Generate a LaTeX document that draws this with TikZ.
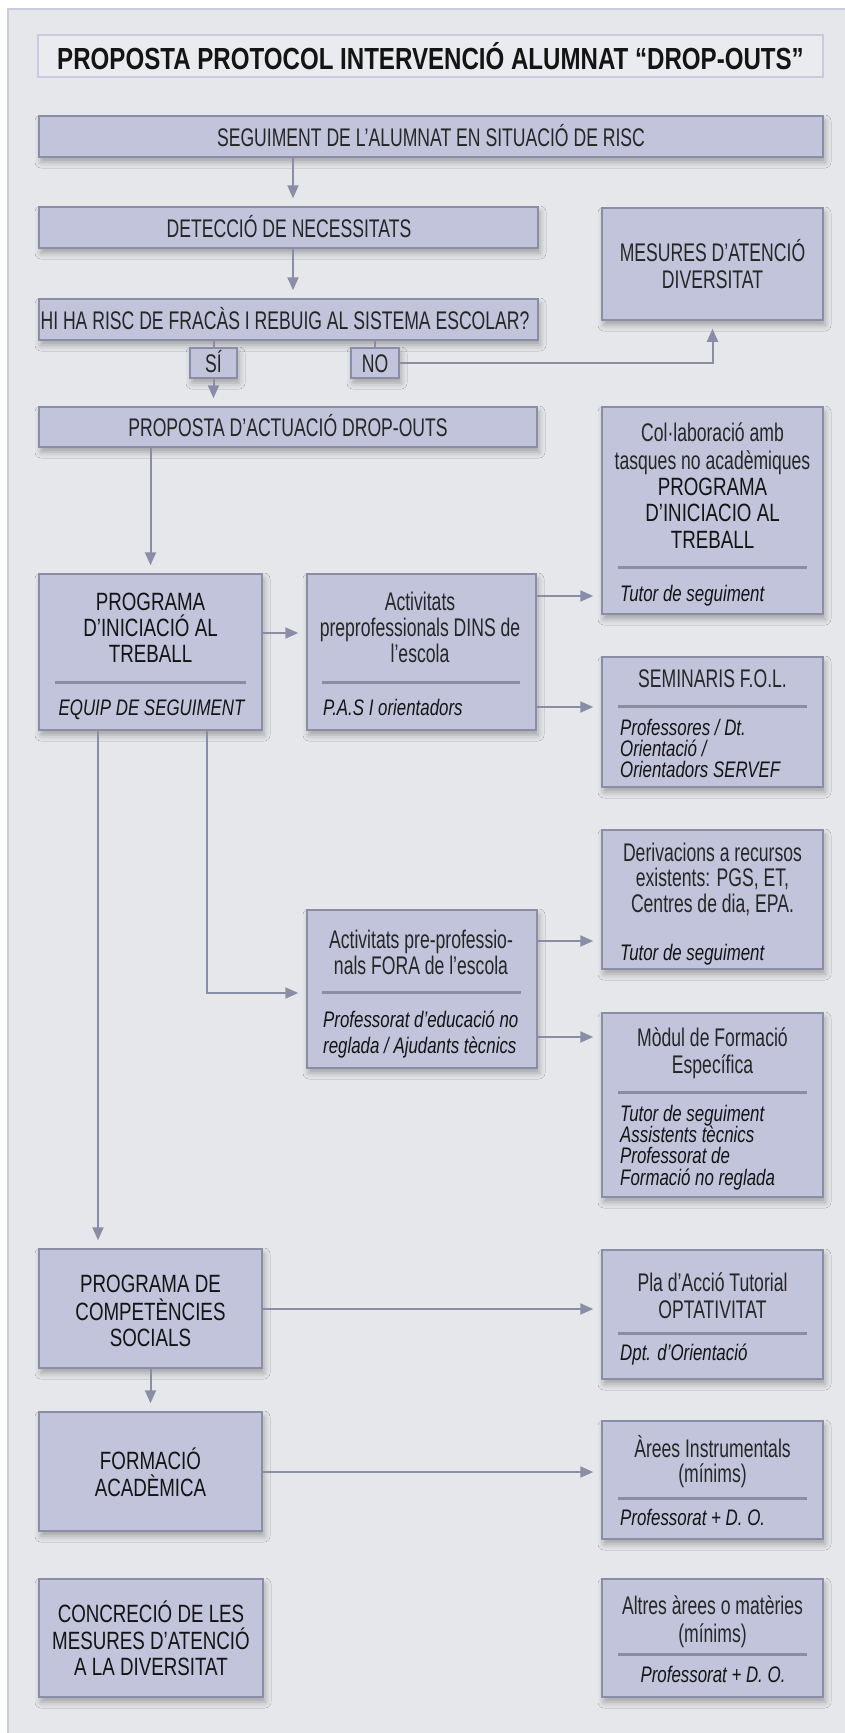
\documentclass[tikz,border=0pt]{standalone}
\usepackage{fontspec}
\setmainfont{Liberation Sans}[FakeStretch=0.69]
\newfontfamily\dkfont{Liberation Sans}[FakeStretch=0.75]
\newfontfamily\itfont{Liberation Sans}[FakeStretch=0.75]
\newfontfamily\titlefont{Liberation Sans}[FakeStretch=0.79]
\usetikzlibrary{arrows.meta,shadows.blur}
\definecolor{bgc}{HTML}{E6E7EA}
\definecolor{framec}{HTML}{C8CBE1}
\definecolor{titlefill}{HTML}{EAEBEE}
\definecolor{boxfill}{HTML}{C1C4DB}
\definecolor{boxline}{HTML}{8A8DA6}
\definecolor{linec}{HTML}{8A8DA6}
\definecolor{txtdark}{HTML}{141414}
\definecolor{txtlight}{HTML}{262626}
\tikzset{
 box/.style={draw=boxline, fill=boxfill, line width=1.5pt, inner sep=0pt, rectangle,
   blur shadow={shadow xshift=2pt, shadow yshift=-5pt, shadow blur radius=6pt, shadow opacity=30}},
 lt/.style={font=\fontsize{25.5}{27}\selectfont, text=txtlight, inner sep=0pt, text height=18.3pt, text depth=0pt},
 dk/.style={font=\dkfont\fontsize{25}{27}\selectfont, text=txtdark, inner sep=0pt, text height=18pt, text depth=0pt},
 it/.style={font=\itfont\itshape\fontsize{22.5}{21}\selectfont, text=txtdark, inner sep=0pt, text height=16pt, text depth=0pt},
 itw/.style={it, anchor=west},
 sepline/.style={draw=boxline, line width=3pt},
 conn/.style={draw=linec, line width=2pt},
 arr/.style={conn, -{Triangle[length=13pt,width=11pt]}, shorten >=8pt},
}
\begin{document}
\begin{tikzpicture}[x=1pt,y=-1pt]
\useasboundingbox (0,0) rectangle (845,1733);
\clip (0,0) rectangle (845,1733);
\fill[white] (0,0) rectangle (845,1733);
\draw[framec, fill=bgc, line width=2pt] (8,9) rectangle (880,1780);

% title
\node[draw=framec, line width=2.5pt, fill=titlefill, minimum width=785pt, minimum height=42pt, inner sep=0pt] (title) at (430.5,56) {};
\node[font=\titlefont\bfseries\fontsize{30.5}{31}\selectfont, text=txtdark, inner sep=0pt, text height=22pt, text depth=0pt] (titletxt) at (430.5,58) {PROPOSTA PROTOCOL INTERVENCIÓ ALUMNAT “DROP-OUTS”};

% boxes
\node[box, minimum width=784pt, minimum height=41pt] (seg) at (431,136.5) {};
\node[box, minimum width=499pt, minimum height=41pt] (det) at (288.5,227.5) {};
\node[box, minimum width=499pt, minimum height=41pt] (hiha) at (288.5,319.5) {};
\node[box, minimum width=47pt, minimum height=30pt] (si) at (213.5,363) {};
\node[box, minimum width=48pt, minimum height=30pt] (no) at (375,363) {};
\node[box, minimum width=221pt, minimum height=112pt] (mes) at (712.5,264) {};
\node[box, minimum width=498pt, minimum height=40pt] (prop) at (288,427) {};
\node[box, minimum width=221pt, minimum height=207pt] (col) at (712.5,510.5) {};
\node[box, minimum width=223pt, minimum height=156pt] (prog) at (150.5,652) {};
\node[box, minimum width=229pt, minimum height=156pt] (dins) at (421.5,652) {};
\node[box, minimum width=221pt, minimum height=130pt] (sem) at (712.5,722) {};
\node[box, minimum width=221pt, minimum height=139pt] (der) at (712.5,899.5) {};
\node[box, minimum width=230pt, minimum height=158pt] (fora) at (422,989) {};
\node[box, minimum width=221pt, minimum height=184pt] (mod) at (712.5,1105) {};
\node[box, minimum width=223pt, minimum height=119pt] (comp) at (150.5,1308.5) {};
\node[box, minimum width=221pt, minimum height=129pt] (pla) at (712.5,1314.5) {};
\node[box, minimum width=223pt, minimum height=119pt] (form) at (150.5,1471.5) {};
\node[box, minimum width=221pt, minimum height=118pt] (arees) at (712.5,1480) {};
\node[box, minimum width=224pt, minimum height=118pt] (conc) at (151,1638) {};
\node[box, minimum width=221pt, minimum height=118pt] (altr) at (712.5,1638) {};

% texts
\node[lt] (segt) at (431,137) {SEGUIMENT DE L’ALUMNAT EN SITUACIÓ DE RISC};
\node[lt] (dett) at (289,228) {DETECCIÓ DE NECESSITATS};
\node[lt] (hihat) at (285,320) {HI HA RISC DE FRACÀS I REBUIG AL SISTEMA ESCOLAR?};
\node[lt] (sit) at (213.5,363) {SÍ};
\node[lt] (not) at (375,363) {NO};
\node[lt] (mest1) at (712.5,252) {MESURES D’ATENCIÓ};
\node[lt] (mest2) at (712.5,279.5) {DIVERSITAT};
\node[lt] (propt) at (288,427.5) {PROPOSTA D’ACTUACIÓ DROP-OUTS};

\node[lt] (colt1) at (712.5,432.5) {Col·laboració amb};
\node[lt] (colt2) at (712.5,460) {tasques no acadèmiques};
\node[dk] (colt3) at (712.5,486) {PROGRAMA};
\node[dk] (colt4) at (712.5,512) {D’INICIACIO AL};
\node[dk] (colt5) at (712.5,539) {TREBALL};
\draw[sepline] (618,567) -- (807,567);
\node[itw] (coli) at (620,593) {Tutor de seguiment};

\node[dk] (progt1) at (150.5,601) {PROGRAMA};
\node[dk] (progt2) at (150.5,627) {D’INICIACIÓ AL};
\node[dk] (progt3) at (150.5,653) {TREBALL};
\draw[sepline] (55,682) -- (246,682);
\node[it] (progi) at (151.5,707) {EQUIP DE SEGUIMENT};

\node[lt] (dinst1) at (420,601) {Activitats};
\node[lt] (dinst2) at (420,627) {preprofessionals DINS de};
\node[lt] (dinst3) at (420,653) {l’escola};
\draw[sepline] (322,682) -- (520,682);
\node[itw] (dinsi) at (323,707) {P.A.S I orientadors};

\node[lt] (semt) at (712.5,678) {SEMINARIS F.O.L.};
\draw[sepline] (618,706) -- (807,706);
\node[itw] (semi1) at (620,727) {Professores / Dt.};
\node[itw] (semi2) at (620,748) {Orientació /};
\node[itw] (semi3) at (620,769) {Orientadors SERVEF};

\node[lt] (dert1) at (712.5,852) {Derivacions a recursos};
\node[lt] (dert2) at (712.5,877.5) {existents: PGS, ET,};
\node[lt] (dert3) at (712.5,903) {Centres de dia, EPA.};
\node[itw] (deri) at (620,952) {Tutor de seguiment};

\node[lt] (forat1) at (421,939) {Activitats pre-professio-};
\node[lt] (forat2) at (421,965) {nals FORA de l’escola};
\draw[sepline] (322,992) -- (521,992);
\node[itw] (forai1) at (323,1019) {Professorat d’educació no};
\node[itw] (forai2) at (323,1045) {reglada / Ajudants tècnics};

\node[lt] (modt1) at (712.5,1037) {Mòdul de Formació};
\node[lt] (modt2) at (712.5,1064) {Específica};
\draw[sepline] (618,1092) -- (807,1092);
\node[itw] (modi1) at (620,1113) {Tutor de seguiment};
\node[itw] (modi2) at (620,1134) {Assistents tècnics};
\node[itw] (modi3) at (620,1155) {Professorat de};
\node[itw] (modi4) at (620,1177) {Formació no reglada};

\node[dk] (compt1) at (150.5,1283) {PROGRAMA DE};
\node[dk] (compt2) at (150.5,1311) {COMPETÈNCIES};
\node[dk] (compt3) at (150.5,1337) {SOCIALS};

\node[lt] (plat1) at (712.5,1282) {Pla d’Acció Tutorial};
\node[lt] (plat2) at (712.5,1309) {OPTATIVITAT};
\draw[sepline] (618,1333) -- (807,1333);
\node[itw] (plai) at (620,1352) {Dpt. d’Orientació};

\node[dk] (formt1) at (150.5,1460) {FORMACIÓ};
\node[dk] (formt2) at (150.5,1487) {ACADÈMICA};

\node[lt] (areest1) at (712.5,1448) {Àrees Instrumentals};
\node[lt] (areest2) at (712.5,1473) {(mínims)};
\draw[sepline] (618,1498) -- (807,1498);
\node[itw] (areesi) at (620,1517) {Professorat + D. O.};

\node[dk] (conct1) at (151,1613) {CONCRECIÓ DE LES};
\node[dk] (conct2) at (151,1640) {MESURES D’ATENCIÓ};
\node[dk] (conct3) at (151,1666) {A LA DIVERSITAT};

\node[lt] (altrt1) at (712.5,1605) {Altres àrees o matèries};
\node[lt] (altrt2) at (712.5,1633) {(mínims)};
\draw[sepline] (618,1654) -- (807,1654);
\node[it] (altri) at (713,1674) {Professorat + D. O.};

% connectors
\coordinate (xa) at (293,0);
\coordinate (xf) at (207,0);
\coordinate (xl) at (98,0);
\coordinate (ya) at (0,633);
\coordinate (yb) at (0,596);
\coordinate (yc) at (0,707);
\coordinate (yd) at (0,993);
\coordinate (ye) at (0,941);
\coordinate (yf) at (0,1037);
\coordinate (yg) at (0,1309);
\coordinate (yh) at (0,1472);
\draw[arr] (seg.south -| xa) -- (det.north -| xa);
\draw[arr] (det.south -| xa) -- (hiha.north -| xa);
\draw[conn] (hiha.south -| si) -- (si.north);
\draw[conn] (hiha.south -| no) -- (no.north);
\draw[arr] (si.south) -- (prop.north -| si);
\draw[arr] (no.east) -| (mes.south);
\draw[arr] (prop.south -| prog) -- (prog.north);
\draw[arr] (prog.east |- ya) -- (dins.west |- ya);
\draw[arr] (dins.east |- yb) -- (col.west |- yb);
\draw[arr] (dins.east |- yc) -- (sem.west |- yc);
\draw[arr] (prog.south -| xf) |- (fora.west |- yd);
\draw[arr] (fora.east |- ye) -- (der.west |- ye);
\draw[arr] (fora.east |- yf) -- (mod.west |- yf);
\draw[arr] (prog.south -| xl) -- (comp.north -| xl);
\draw[arr] (comp.east |- yg) -- (pla.west |- yg);
\draw[arr] (comp.south) -- (form.north);
\draw[arr] (form.east |- yh) -- (arees.west |- yh);
\end{tikzpicture}
\end{document}
